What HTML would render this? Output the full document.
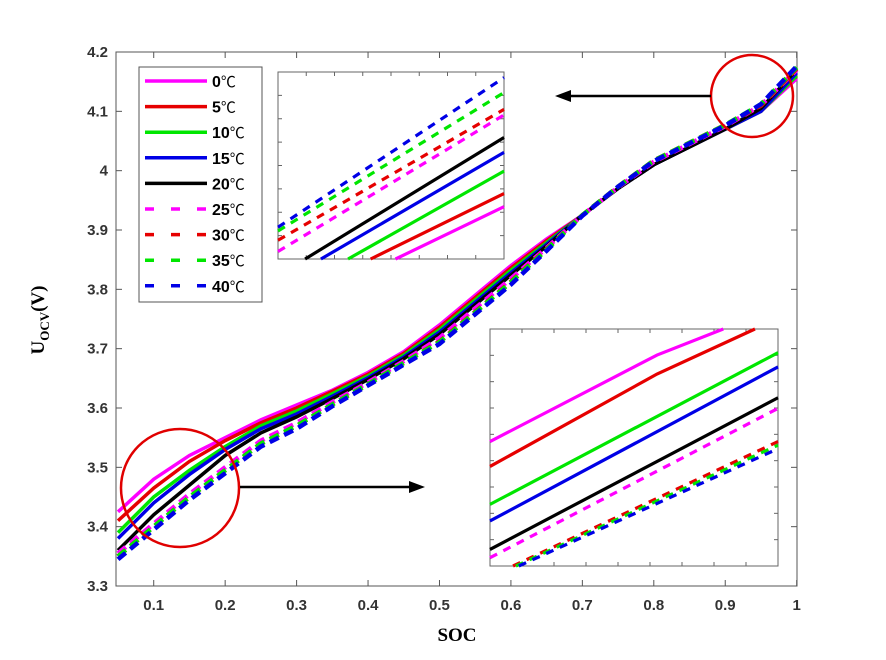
<!DOCTYPE html>
<html><head><meta charset="utf-8"><style>
body{margin:0;background:#fff}
svg{display:block;font-family:"Liberation Sans","Noto Sans CJK SC",sans-serif}
</style></head><body>
<svg id="c" width="886" height="660"></svg>
<script>
const soc=[0.05,0.1,0.15,0.2,0.25,0.3,0.35,0.4,0.45,0.5,0.55,0.6,0.65,0.7,0.75,0.8,0.85,0.9,0.95,1.0];
const v0 =[3.425,3.48,3.52,3.55,3.58,3.605,3.63,3.66,3.695,3.74,3.79,3.84,3.885,3.925,3.97,4.01,4.04,4.07,4.10,4.155];
const v5 =[3.41,3.465,3.51,3.545,3.575,3.60,3.628,3.657,3.692,3.736,3.786,3.836,3.882,3.925,3.97,4.01,4.04,4.07,4.10,4.16];
const v10=[3.39,3.45,3.495,3.535,3.57,3.595,3.624,3.654,3.689,3.732,3.782,3.832,3.879,3.925,3.97,4.01,4.04,4.07,4.10,4.16];
const v15=[3.38,3.44,3.488,3.53,3.565,3.59,3.62,3.651,3.686,3.728,3.778,3.828,3.876,3.925,3.97,4.01,4.04,4.07,4.10,4.165];
const v20=[3.36,3.42,3.47,3.52,3.558,3.585,3.616,3.648,3.683,3.724,3.774,3.824,3.873,3.925,3.97,4.01,4.04,4.07,4.105,4.17];
const v25=[3.355,3.405,3.455,3.50,3.545,3.575,3.61,3.643,3.679,3.718,3.768,3.818,3.87,3.925,3.972,4.015,4.045,4.075,4.11,4.17];
const v30=[3.35,3.40,3.45,3.495,3.54,3.57,3.606,3.64,3.676,3.712,3.762,3.813,3.868,3.925,3.973,4.017,4.047,4.077,4.11,4.172];
const v35=[3.35,3.40,3.45,3.495,3.54,3.57,3.606,3.64,3.676,3.711,3.761,3.812,3.867,3.925,3.973,4.017,4.047,4.077,4.112,4.174];
const v40=[3.345,3.395,3.445,3.49,3.535,3.565,3.603,3.638,3.673,3.708,3.758,3.808,3.865,3.924,3.973,4.016,4.046,4.076,4.112,4.176];
const labels=["0","5","10","15","20","25","30","35","40"];
const colors=["#ff00ff","#e60000","#00e600","#0000e6","#000000","#ff00ff","#e60000","#00e600","#0000e6"];
const xTicks=[0.1,0.2,0.3,0.4,0.5,0.6,0.7,0.8,0.9,1];
const xTickLabels=["0.1","0.2","0.3","0.4","0.5","0.6","0.7","0.8","0.9","1"];
const yTicks=[3.3,3.4,3.5,3.6,3.7,3.8,3.9,4,4.1,4.2];
const yTickLabels=["3.3","3.4","3.5","3.6","3.7","3.8","3.9","4","4.1","4.2"];
const lowX=[[0,0.58,0.81],[0,0.58,0.92],[0,1],[0,1],[0,1],[0,1],[0.08,1],[0.09,1],[0.1,1]];
const lowY=[[0.525,0.89,1],[0.42,0.81,1],[0.26,0.90],[0.19,0.84],[0.07,0.71],[0.035,0.665],[0,0.525],[0,0.51],[0,0.495]];
const upX=[[0.52,1],[0.41,1],[0.31,1],[0.19,1],[0.12,1],[0,1],[0,1],[0,1],[0,1]];
const upY=[[0,0.28],[0,0.35],[0,0.47],[0,0.57],[0,0.65],[0.04,0.77],[0.10,0.80],[0.15,0.89],[0.17,0.97]];
const series=[v0,v5,v10,v15,v20,v25,v30,v35,v40];

const NS="http://www.w3.org/2000/svg",svg=document.getElementById('c');
function el(t,a,p){const e=document.createElementNS(NS,t);for(const k in a)e.setAttribute(k,a[k]);(p||svg).appendChild(e);return e;}
const L=116,R=797,T=52,B=586;
const xs=x=>118+(x-0.05)*714.4;
const ys=y=>B-(y-3.3)/0.9*(B-T);
let ax=el('rect',{x:L,y:T,width:R-L,height:B-T,fill:'#fff',stroke:'#555','stroke-width':1});


xTicks.forEach((t,i)=>{const x=xs(t);
 el('line',{x1:x,y1:B,x2:x,y2:B-6,stroke:'#555'});el('line',{x1:x,y1:T,x2:x,y2:T+6,stroke:'#555'});
 const tx=el('text',{x:x,y:B+24,'text-anchor':'middle','font-size':15,'font-weight':'bold',fill:'#333'});tx.textContent=xTickLabels[i];
 
 });
yTicks.forEach((t,i)=>{const y=ys(t);
 el('line',{x1:L,y1:y,x2:L+6,y2:y,stroke:'#555'});el('line',{x1:R,y1:y,x2:R-6,y2:y,stroke:'#555'});
 const tx=el('text',{x:L-8,y:y+5,'text-anchor':'end','font-size':15,'font-weight':'bold',fill:'#333'});tx.textContent=yTickLabels[i];
 
 });
series.forEach((s,k)=>{
 const p=el('polyline',{points:s.map((v,i)=>xs(soc[i])+','+ys(v)).join(' '),fill:'none',stroke:colors[k],'stroke-width':k>=5?4.5:3.5,'stroke-dasharray':k>=5?'10,6':'none'});
 
 });
function inset(x0,y0,w,h,X,Y,name,nt){
 const g=el('g',{});
 
 
 el('rect',{x:x0,y:y0,width:w,height:h,fill:'#fff',stroke:'#666'},g);
 for(let i=1;i<nt;i++){const x=x0+w*i/nt;el('line',{x1:x,y1:y0,x2:x,y2:y0+4,stroke:'#666'},g);el('line',{x1:x,y1:y0+h,x2:x,y2:y0+h-4,stroke:'#666'},g);}
 for(let i=1;i<nt;i++){const y=y0+h*i/nt;el('line',{x1:x0,y1:y,x2:x0+4,y2:y,stroke:'#666'},g);el('line',{x1:x0+w,y1:y,x2:x0+w-4,y2:y,stroke:'#666'},g);}
 X.forEach((xa,k)=>{el('polyline',{points:xa.map((x,i)=>(x0+x*w)+','+(y0+h-Y[k][i]*h)).join(' '),fill:'none',stroke:colors[k],'stroke-width':3.2,'stroke-dasharray':k>=5?'8,7':'none'},g);});
}
inset(490,329,288,237,lowX,lowY,'inset-low-soc',9);
inset(278,72,226,187,upX,upY,'inset-high-soc',8);
el('circle',{cx:180,cy:488,r:59,fill:'none',stroke:'#e00000','stroke-width':2.5});
el('circle',{cx:752,cy:96,r:41,fill:'none',stroke:'#e00000','stroke-width':2.5});
el('line',{x1:240,y1:487,x2:412,y2:487,stroke:'#000','stroke-width':2.5});
el('polygon',{points:'425,487 409,481 409,493',fill:'#000'});
el('line',{x1:711,y1:96,x2:570,y2:96,stroke:'#000','stroke-width':2.5});
el('polygon',{points:'555,96 571,90 571,102',fill:'#000'});
const lg=el('g',{});


el('rect',{x:139,y:67,width:123,height:235,fill:'#fff',stroke:'#555'},lg);
labels.forEach((l,k)=>{const y=81+k*25.6;
 el('line',{x1:145,y1:y,x2:207,y2:y,stroke:colors[k],'stroke-width':3.5,'stroke-dasharray':k>=5?'9,17':'none'},lg);
 const t=el('text',{x:212,y:y+6,'font-size':16,'font-weight':'bold'},lg);
 t.innerHTML=l+'<tspan font-weight="normal" font-size="15">℃</tspan>';
 
 });
const xt=el('text',{x:457,y:641,'text-anchor':'middle','font-size':19,'font-weight':'bold','font-family':'Liberation Serif,serif'});xt.textContent='SOC';


const yt=el('text',{transform:'translate(44,320) rotate(-90)','text-anchor':'middle','font-size':19,'font-weight':'bold','font-family':'Liberation Serif,serif'});
yt.innerHTML='U<tspan font-size="13" dy="5">OCV</tspan><tspan dy="-5">(V)</tspan>';


</script>
</body></html>
